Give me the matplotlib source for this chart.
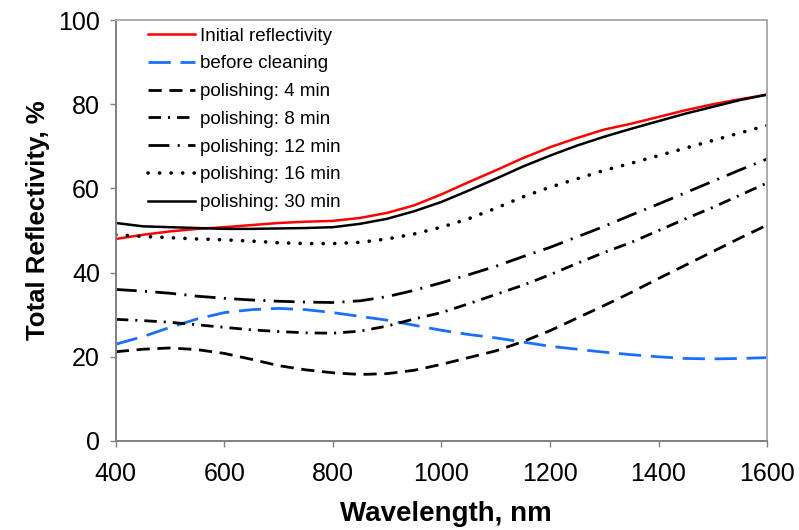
import numpy as np
import matplotlib
matplotlib.use("Agg")
import matplotlib.pyplot as plt

plt.rcParams['font.family'] = ['Liberation Sans', 'DejaVu Sans']
plt.rcParams['lines.scale_dashes'] = False

wavelength = [400, 450, 500, 550, 600, 650, 700, 750, 800, 850, 900, 950, 1000,
              1050, 1100, 1150, 1200, 1250, 1300, 1350, 1400, 1450, 1500, 1550, 1600]

initial = [48.0, 49.0, 49.8, 50.4, 50.8, 51.3, 51.8, 52.1, 52.3, 53.0, 54.2, 56.0, 58.6,
           61.5, 64.3, 67.2, 69.8, 72.0, 74.0, 75.4, 77.0, 78.6, 80.0, 81.2, 82.3]
before_cleaning = [23.0, 24.8, 27.0, 29.0, 30.5, 31.2, 31.5, 31.2, 30.5, 29.6, 28.7, 27.5, 26.3,
                   25.3, 24.5, 23.5, 22.5, 21.8, 21.1, 20.5, 20.0, 19.6, 19.5, 19.6, 19.8]
pol_4 = [21.2, 21.8, 22.1, 21.7, 20.8, 19.4, 17.9, 16.9, 16.2, 15.8, 16.0, 16.8, 18.2,
         19.8, 21.4, 23.6, 26.2, 29.2, 32.2, 35.3, 38.6, 41.8, 45.0, 48.2, 51.3]
pol_8 = [28.9, 28.6, 28.2, 27.6, 27.0, 26.4, 26.0, 25.7, 25.6, 26.1, 27.3, 29.0, 30.5,
         32.6, 34.8, 37.0, 39.5, 42.2, 44.8, 47.2, 50.0, 52.8, 55.5, 58.4, 61.3]
pol_12 = [36.0, 35.6, 35.1, 34.4, 33.9, 33.5, 33.2, 33.0, 32.9, 33.3, 34.3, 35.8, 37.6,
          39.5, 41.5, 43.8, 46.0, 48.5, 51.0, 53.7, 56.3, 59.0, 61.7, 64.4, 67.0]
pol_16 = [49.0, 48.6, 48.3, 48.0, 47.8, 47.5, 47.1, 46.9, 46.9, 47.2, 48.0, 49.2, 50.8,
          52.8, 55.3, 58.0, 60.3, 62.3, 64.3, 66.0, 67.8, 69.6, 71.4, 73.2, 75.0]
pol_30 = [51.8, 51.0, 50.8, 50.6, 50.4, 50.4, 50.5, 50.6, 50.8, 51.6, 52.8, 54.6, 56.8,
          59.5, 62.3, 65.2, 67.8, 70.2, 72.3, 74.2, 76.0, 77.8, 79.4, 81.0, 82.3]

fig = plt.figure(figsize=(7.99, 5.30), dpi=100)
ax = fig.add_axes([0.145, 0.168, 0.815, 0.794])

ax.plot(wavelength, initial, color='#ff0000', lw=1.8, label='Initial reflectivity')
ax.plot(wavelength, before_cleaning, color='#1a6fff', lw=2.0,
        linestyle=(0, (16, 7)), label='before cleaning')
ax.plot(wavelength, pol_4, color='black', lw=2.0,
        linestyle=(0, (9.5, 5.5)), label='polishing: 4 min')
ax.plot(wavelength, pol_8, color='black', lw=2.0,
        linestyle=(0, (9, 5, 1.5, 5)), label='polishing: 8 min')
ax.plot(wavelength, pol_12, color='black', lw=2.0,
        linestyle=(0, (15, 6, 1.5, 6)), label='polishing: 12 min')
ax.plot(wavelength, pol_16, color='black', lw=2.6, dash_capstyle='round',
        linestyle=(0, (0.1, 8.2)), label='polishing: 16 min')
ax.plot(wavelength, pol_30, color='black', lw=1.8, label='polishing: 30 min')

ax.set_xlim(400, 1600)
ax.set_ylim(0, 100)
ax.set_xticks(np.arange(400, 1601, 200))
ax.set_yticks(np.arange(0, 101, 20))
ax.tick_params(labelsize=18, length=4.5, width=1, color='#808080')
ax.tick_params(axis='x', pad=11)
ax.tick_params(axis='y', pad=7)

for side in ['left', 'bottom']:
    ax.spines[side].set_color('#808080')
    ax.spines[side].set_linewidth(1.4)
for side in ['top', 'right']:
    ax.spines[side].set_color('#aaaaaa')
    ax.spines[side].set_linewidth(1.4)

ax.set_xlabel('Wavelength, nm', fontsize=20, fontweight='bold')
ax.set_ylabel('Total Reflectivity, %', fontsize=18.5, fontweight='bold')
ax.xaxis.set_label_coords(0.507, -0.1425)
ax.yaxis.set_label_coords(-0.101, 0.525)

ax.legend(loc='upper left', bbox_to_anchor=(0.0376, 1.0), frameon=False,
          fontsize=13.5, handlelength=2.5, handletextpad=0.27, labelspacing=0.565,
          borderaxespad=0)

plt.savefig('out.png', dpi=100)
